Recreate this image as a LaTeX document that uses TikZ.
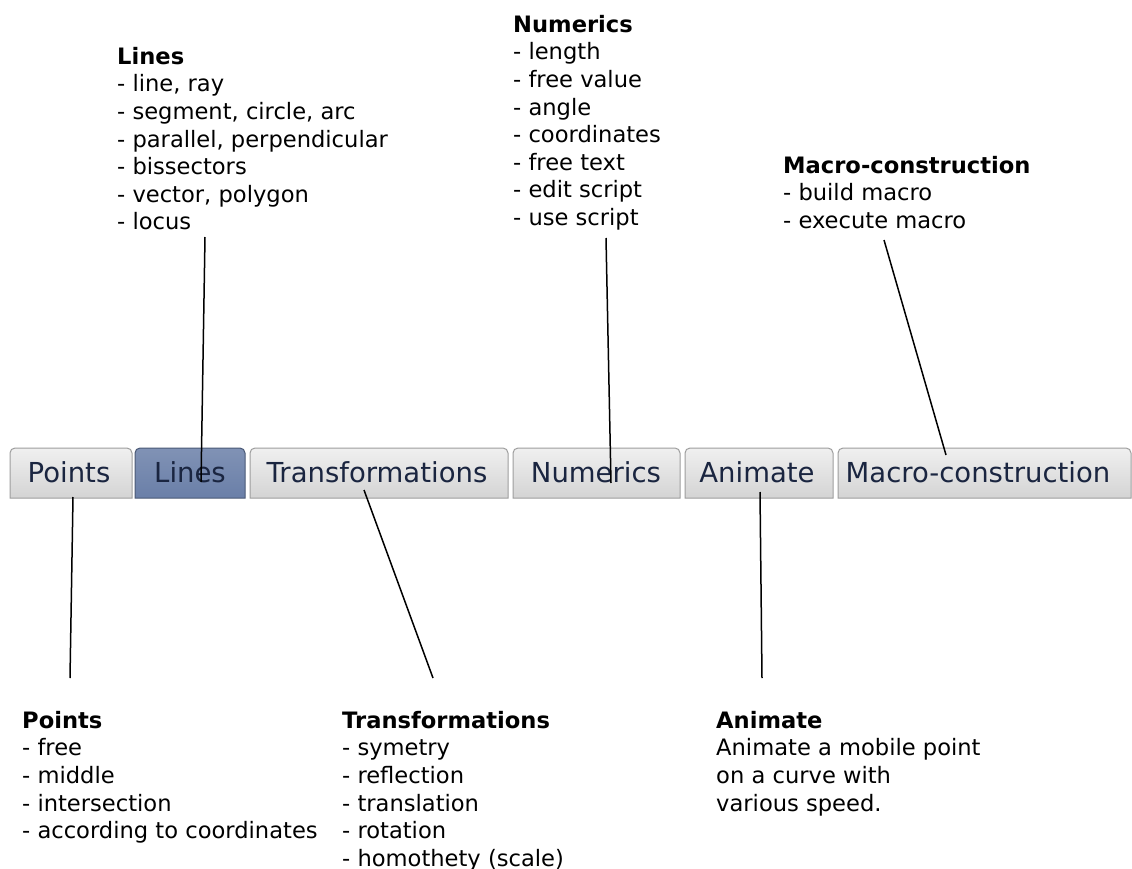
\documentclass[tikz,border=0pt]{standalone}
\usepackage{fontspec}
\setmainfont{DejaVu Sans}
\begin{document}
\begin{tikzpicture}[x=1pt,y=-1pt,
  note/.style={anchor=north west,inner sep=0pt,align=left,font=\fontsize{22.6}{27.6}\selectfont},
  tabbox/.style={draw=black!38,line width=1pt,rounded corners=5pt,top color=black!6,bottom color=black!17},
  seltab/.style={tabbox,top color=selblue!85,bottom color=selblue,draw=selblue!70!black},
  tablabel/.style={inner sep=0pt,font=\fontsize{27.5}{30}\selectfont,text=tabtext},
  link/.style={draw=black,line width=1.5pt}]
\definecolor{tabtext}{HTML}{1A2540}
\definecolor{selblue}{HTML}{6A7FA8}
\useasboundingbox (0,0) rectangle (1132,869);
\fill[white] (0,0) rectangle (1132,869);
% tabs (rounded top corners only)
\path[tabbox] (10,498) -- (10,448) -- (132,448) [sharp corners] -- (132,498) -- cycle;
\node[tablabel] (tPoints) at (69,472) {Points};
\path[seltab] (135,498) -- (135,448) -- (245,448) [sharp corners] -- (245,498) -- cycle;
\node[tablabel] (tLines) at (190,472) {Lines};
\path[tabbox] (250,498) -- (250,448) -- (508,448) [sharp corners] -- (508,498) -- cycle;
\node[tablabel] (tTrans) at (377,472) {Transformations};
\path[tabbox] (513,498) -- (513,448) -- (680,448) [sharp corners] -- (680,498) -- cycle;
\node[tablabel] (tNum) at (596,472) {Numerics};
\path[tabbox] (685,498) -- (685,448) -- (833,448) [sharp corners] -- (833,498) -- cycle;
\node[tablabel] (tAnim) at (757,472) {Animate};
\path[tabbox] (838,498) -- (838,448) -- (1131,448) [sharp corners] -- (1131,498) -- cycle;
\node[tablabel] (tMacro) at (978,472) {Macro-construction};
% notes
\node[note] (nLines) at (117,47) {\textbf{Lines}\\- line, ray\\- segment, circle, arc\\- parallel, perpendicular\\- bissectors\\- vector, polygon\\- locus};
\node[note] (nNum) at (513,15) {\textbf{Numerics}\\- length\\- free value\\- angle\\- coordinates\\- free text\\- edit script\\- use script};
\node[note] (nMacro) at (783,156) {\textbf{Macro-construction}\\- build macro\\- execute macro};
\node[note] (nPoints) at (22,711) {\textbf{Points}\\- free\\- middle\\- intersection\\- according to coordinates};
\node[note] (nTrans) at (342,711) {\textbf{Transformations}\\- symetry\\- reflection\\- translation\\- rotation\\- homothety (scale)};
\node[note] (nAnim) at (716,711) {\textbf{Animate}\\Animate a mobile point\\on a curve with\\various speed.};
% connector ends
\coordinate (aL1) at (205,237); \coordinate (aL2) at (201,482);
\coordinate (aN1) at (606,238); \coordinate (aN2) at (611,483);
\coordinate (aM1) at (884,240); \coordinate (aM2) at (946,455);
\coordinate (aP1) at (73,497);  \coordinate (aP2) at (70,678);
\coordinate (aT1) at (364,490); \coordinate (aT2) at (433,678);
\coordinate (aA1) at (760,492); \coordinate (aA2) at (762,678);
\draw[link] (aL1) -- (aL2);
\draw[link] (aN1) -- (aN2);
\draw[link] (aM1) -- (aM2);
\draw[link] (aP1) -- (aP2);
\draw[link] (aT1) -- (aT2);
\draw[link] (aA1) -- (aA2);
\end{tikzpicture}
\end{document}
